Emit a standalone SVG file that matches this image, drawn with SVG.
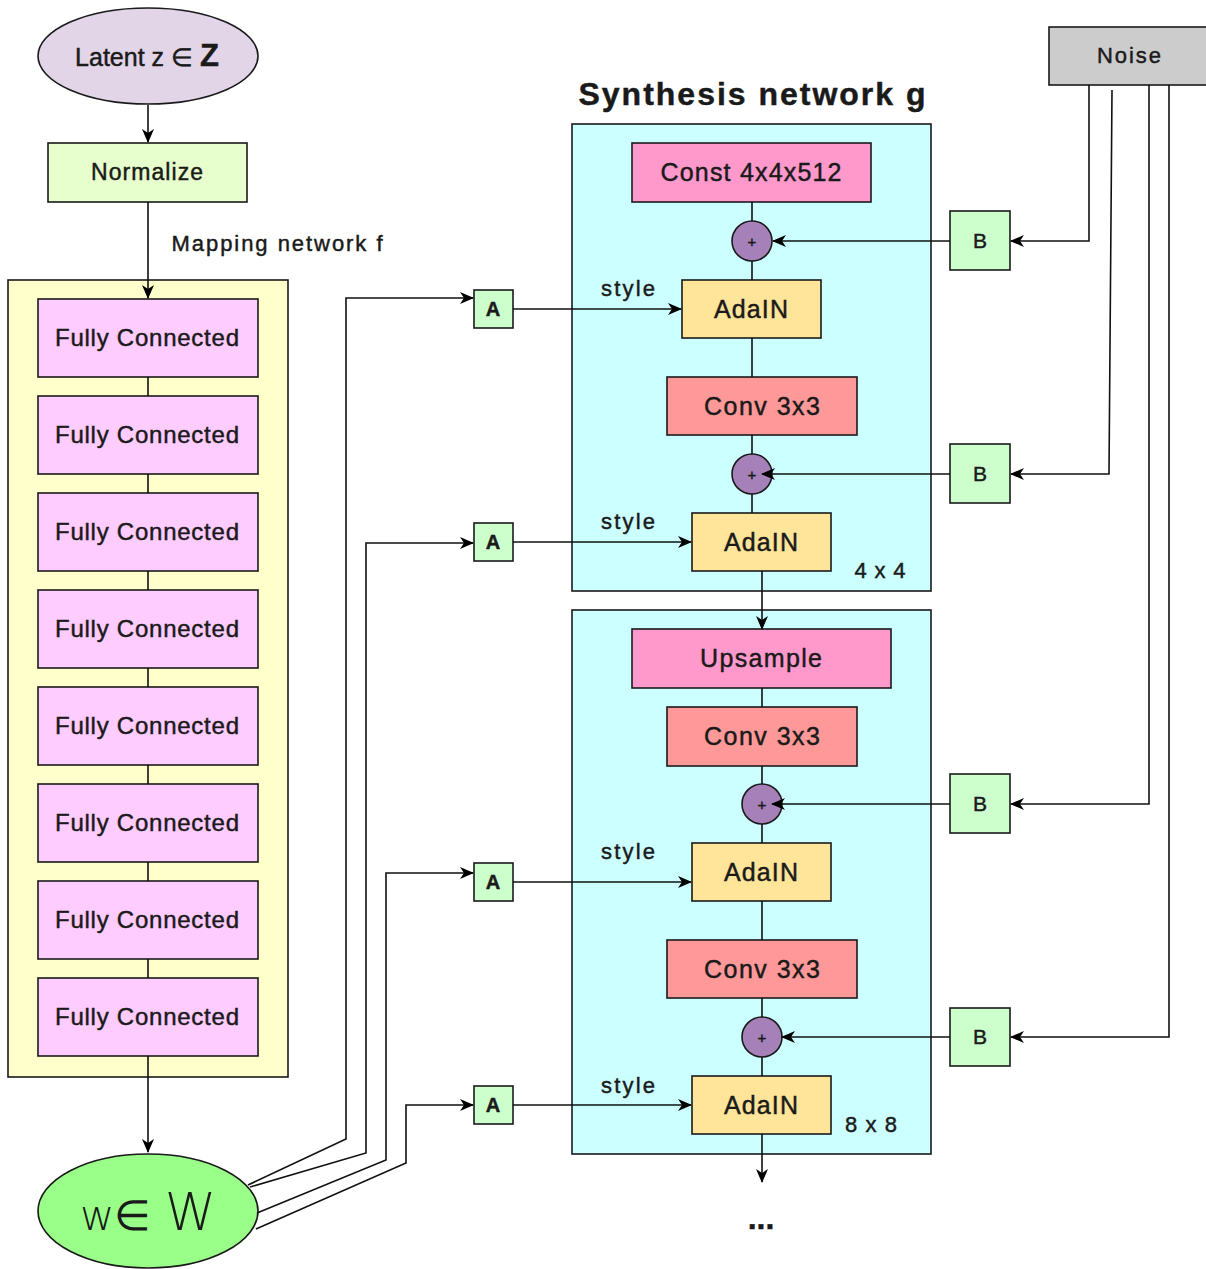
<svg xmlns="http://www.w3.org/2000/svg" width="1206" height="1269" viewBox="0 0 1206 1269">
<defs>
<marker id="ah" markerWidth="14" markerHeight="12" refX="13" refY="6" orient="auto" markerUnits="userSpaceOnUse">
<path d="M0,0 L14,6 L0,12 L4,6 z" fill="#000"/>
</marker>
<style>
.s{stroke:#1a1a1a;stroke-width:1.6}
.ln{fill:none;stroke:#111;stroke-width:1.6}
.t{font-family:"Liberation Sans",Arial,sans-serif;fill:#1a1a1a;text-anchor:middle;stroke:#1a1a1a;stroke-width:0.45}
.fc{fill:#ffccff}
.ab{fill:#ccffcc}
.ada{fill:#ffe599}
.conv{fill:#ff9999}
.pk{fill:#ff99cc}
.cy{fill:#ccffff}
.pl{fill:#a680b8}
</style>
</defs>
<rect width="1206" height="1269" fill="#fff"/>

<!-- containers -->
<g id="mapping-container"><rect x="8" y="280" width="280" height="797" fill="#ffffcc" class="s"/></g>
<g id="block4x4"><rect x="572" y="124" width="359" height="467" class="cy s"/></g>
<g id="block8x8"><rect x="572" y="610" width="359" height="544" class="cy s"/></g>

<!-- left column nodes -->
<g id="latent">
<ellipse cx="148" cy="56" rx="110" ry="48" fill="#e1d5e7" class="s"/>
<text class="t" x="147" y="66" font-size="25"><tspan>Latent z ∈ </tspan><tspan font-weight="bold" font-size="31">Z</tspan></text>
</g>
<g id="normalize">
<rect x="48" y="143" width="199" height="59" fill="#e6ffcc" class="s"/>
<text class="t" x="147" y="180" font-size="23" textLength="112">Normalize</text>
</g>
<text class="t" x="277" y="251" font-size="22" textLength="211">Mapping network f</text>

<g id="fc1"><rect x="38" y="299" width="220" height="78" class="fc s"/><text class="t" x="147" y="346" font-size="24" textLength="184">Fully Connected</text></g>
<g id="fc2"><rect x="38" y="396" width="220" height="78" class="fc s"/><text class="t" x="147" y="443" font-size="24" textLength="184">Fully Connected</text></g>
<g id="fc3"><rect x="38" y="493" width="220" height="78" class="fc s"/><text class="t" x="147" y="540" font-size="24" textLength="184">Fully Connected</text></g>
<g id="fc4"><rect x="38" y="590" width="220" height="78" class="fc s"/><text class="t" x="147" y="637" font-size="24" textLength="184">Fully Connected</text></g>
<g id="fc5"><rect x="38" y="687" width="220" height="78" class="fc s"/><text class="t" x="147" y="734" font-size="24" textLength="184">Fully Connected</text></g>
<g id="fc6"><rect x="38" y="784" width="220" height="78" class="fc s"/><text class="t" x="147" y="831" font-size="24" textLength="184">Fully Connected</text></g>
<g id="fc7"><rect x="38" y="881" width="220" height="78" class="fc s"/><text class="t" x="147" y="928" font-size="24" textLength="184">Fully Connected</text></g>
<g id="fc8"><rect x="38" y="978" width="220" height="78" class="fc s"/><text class="t" x="147" y="1025" font-size="24" textLength="184">Fully Connected</text></g>

<g id="w">
<ellipse cx="148" cy="1211" rx="110" ry="57" fill="#99ff88" class="s"/>
<text x="148" y="1230" text-anchor="middle" fill="#1a1a1a" style="font-family:'DejaVu Sans',sans-serif;font-weight:200"><tspan font-size="42">w∈ </tspan><tspan font-size="52">W</tspan></text>
</g>

<!-- synthesis -->
<text class="t" x="752" y="105" font-size="32" font-weight="bold" textLength="347">Synthesis network g</text>

<g id="const"><rect x="632" y="143" width="239" height="59" class="pk s"/><text class="t" x="751" y="181" font-size="25" textLength="181">Const 4x4x512</text></g>
<g id="plus1"><circle cx="752" cy="241" r="20" class="pl s"/><text class="t" x="752" y="247" font-size="15">+</text></g>
<g id="adain1"><rect x="682" y="280" width="139" height="58" class="ada s"/><text class="t" x="751" y="318" font-size="25" textLength="74">AdaIN</text></g>
<g id="conv1"><rect x="667" y="377" width="190" height="58" class="conv s"/><text class="t" x="762" y="415" font-size="25" textLength="116">Conv 3x3</text></g>
<g id="plus2"><circle cx="752" cy="474" r="20" class="pl s"/><text class="t" x="752" y="480" font-size="15">+</text></g>
<g id="adain2"><rect x="692" y="513" width="139" height="58" class="ada s"/><text class="t" x="761" y="551" font-size="25" textLength="74">AdaIN</text></g>
<text class="t" x="880" y="578" font-size="22" textLength="51">4 x 4</text>

<g id="upsample"><rect x="632" y="629" width="259" height="59" class="pk s"/><text class="t" x="761" y="667" font-size="25" textLength="122">Upsample</text></g>
<g id="conv2"><rect x="667" y="707" width="190" height="59" class="conv s"/><text class="t" x="762" y="745" font-size="25" textLength="116">Conv 3x3</text></g>
<g id="plus3"><circle cx="762" cy="804" r="20" class="pl s"/><text class="t" x="762" y="810" font-size="15">+</text></g>
<g id="adain3"><rect x="692" y="843" width="139" height="58" class="ada s"/><text class="t" x="761" y="881" font-size="25" textLength="74">AdaIN</text></g>
<g id="conv3"><rect x="667" y="940" width="190" height="58" class="conv s"/><text class="t" x="762" y="978" font-size="25" textLength="116">Conv 3x3</text></g>
<g id="plus4"><circle cx="762" cy="1037" r="20" class="pl s"/><text class="t" x="762" y="1043" font-size="15">+</text></g>
<g id="adain4"><rect x="692" y="1076" width="139" height="58" class="ada s"/><text class="t" x="761" y="1114" font-size="25" textLength="74">AdaIN</text></g>
<text class="t" x="871" y="1132" font-size="22" textLength="52">8 x 8</text>

<text class="t" x="628" y="296" font-size="22" textLength="54">style</text>
<text class="t" x="628" y="529" font-size="22" textLength="54">style</text>
<text class="t" x="628" y="859" font-size="22" textLength="54">style</text>
<text class="t" x="628" y="1093" font-size="22" textLength="54">style</text>

<text class="t" x="761" y="1229" font-size="32" font-weight="bold">...</text>

<!-- A boxes -->
<g id="a1"><rect x="474" y="290" width="39" height="38" class="ab s"/><text class="t" x="493" y="316" font-size="20" font-weight="bold">A</text></g>
<g id="a2"><rect x="474" y="523" width="39" height="38" class="ab s"/><text class="t" x="493" y="549" font-size="20" font-weight="bold">A</text></g>
<g id="a3"><rect x="474" y="863" width="39" height="38" class="ab s"/><text class="t" x="493" y="889" font-size="20" font-weight="bold">A</text></g>
<g id="a4"><rect x="474" y="1086" width="39" height="38" class="ab s"/><text class="t" x="493" y="1112" font-size="20" font-weight="bold">A</text></g>

<!-- B boxes -->
<g id="b1"><rect x="950" y="211" width="60" height="59" class="ab s"/><text class="t" x="980" y="248" font-size="21">B</text></g>
<g id="b2"><rect x="950" y="444" width="60" height="59" class="ab s"/><text class="t" x="980" y="481" font-size="21">B</text></g>
<g id="b3"><rect x="950" y="774" width="60" height="59" class="ab s"/><text class="t" x="980" y="811" font-size="21">B</text></g>
<g id="b4"><rect x="950" y="1008" width="60" height="58" class="ab s"/><text class="t" x="980" y="1044" font-size="21">B</text></g>

<g id="noise"><rect x="1049" y="27" width="160" height="58" fill="#cccccc" class="s"/><text class="t" x="1129" y="63" font-size="22" textLength="64">Noise</text></g>

<!-- connectors -->
<g id="connectors">
<path class="ln" d="M148,105 V142" marker-end="url(#ah)"/>
<path class="ln" d="M148,202 V298" marker-end="url(#ah)"/>
<path class="ln" d="M148,377 V396 M148,474 V493 M148,571 V590 M148,668 V687 M148,765 V784 M148,862 V881 M148,959 V978"/>
<path class="ln" d="M148,1056 V1152" marker-end="url(#ah)"/>
<path class="ln" d="M752,202 V221 M752,261 V280 M752,338 V377 M752,435 V454 M752,494 V513"/>
<path class="ln" d="M762,571 V629" marker-end="url(#ah)"/>
<path class="ln" d="M762,688 V707 M762,766 V784 M762,824 V843 M762,901 V940 M762,998 V1017 M762,1057 V1076"/>
<path class="ln" d="M762,1134 V1182" marker-end="url(#ah)"/>
<path class="ln" d="M950,241 H773" marker-end="url(#ah)"/>
<path class="ln" d="M950,474 H762" marker-end="url(#ah)"/>
<path class="ln" d="M950,804 H772" marker-end="url(#ah)"/>
<path class="ln" d="M950,1037 H782" marker-end="url(#ah)"/>
<path class="ln" d="M1089,85 V241 H1011" marker-end="url(#ah)"/>
<path class="ln" d="M1112,90 L1109,474 H1011" marker-end="url(#ah)"/>
<path class="ln" d="M1149,85 V804 H1011" marker-end="url(#ah)"/>
<path class="ln" d="M1169,85 V1037 H1011" marker-end="url(#ah)"/>
<path class="ln" d="M513,309 H681" marker-end="url(#ah)"/>
<path class="ln" d="M513,542 H691" marker-end="url(#ah)"/>
<path class="ln" d="M513,882 H691" marker-end="url(#ah)"/>
<path class="ln" d="M513,1105 H691" marker-end="url(#ah)"/>
<path class="ln" d="M248,1185 L346,1139 V298 H473" marker-end="url(#ah)"/>
<path class="ln" d="M250,1187 L366,1153 V543 H473" marker-end="url(#ah)"/>
<path class="ln" d="M257,1213 L386,1160 V873 H473" marker-end="url(#ah)"/>
<path class="ln" d="M256,1229 L406,1163 V1105 H473" marker-end="url(#ah)"/>
</g>
</svg>
